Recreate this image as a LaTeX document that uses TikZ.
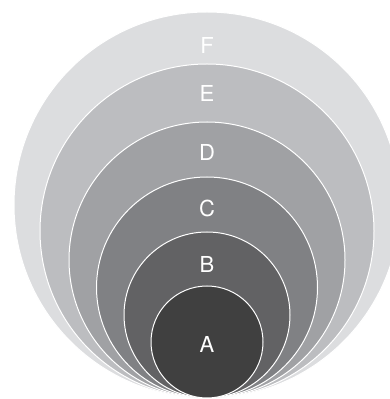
\documentclass[tikz,border=0pt]{standalone}
\usepackage{fontspec}
\setmainfont{TeX Gyre Heros}
\usepackage{tikz}
\usetikzlibrary{positioning}
\definecolor{shadeA}{RGB}{64,64,64}
\definecolor{shadeB}{RGB}{98,98,100}
\definecolor{shadeC}{RGB}{128,129,132}
\definecolor{shadeD}{RGB}{160,161,164}
\definecolor{shadeE}{RGB}{188,189,192}
\definecolor{shadeF}{RGB}{220,221,223}

\begin{document}
\begin{tikzpicture}[x=1pt,y=1pt,font=\fontsize{22}{26}\selectfont,
    ring/.style={circle,draw=white,line width=1pt,inner sep=0pt,anchor=south},
    tag/.style={text=white,inner sep=0pt}]
  \useasboundingbox (0,0) rectangle (390,399);
  \clip (0,0) rectangle (390,399);
  \coordinate (base) at (207,0.5);
  % nested rings, all touching at the bottom
  \node[ring,fill=shadeF,minimum size=386pt] (f) at (base) {};
  \node[ring,fill=shadeE,minimum size=334pt] (e) at (base) {};
  \node[ring,fill=shadeD,minimum size=276pt] (d) at (base) {};
  \node[ring,fill=shadeC,minimum size=221pt] (c) at (base) {};
  \node[ring,fill=shadeB,minimum size=166pt] (b) at (base) {};
  \node[ring,fill=shadeA,minimum size=112pt] (a) at (base) {};
  % labels
  \node[tag] (tagF) at (207,354) {F};
  \node[tag] (tagE) at (207,306) {E};
  \node[tag] (tagD) at (207,247) {D};
  \node[tag] (tagC) at (207,191) {C};
  \node[tag] (tagB) at (207,135) {B};
  \node[tag] (tagA) at (207,55) {A};
\end{tikzpicture}
\end{document}
